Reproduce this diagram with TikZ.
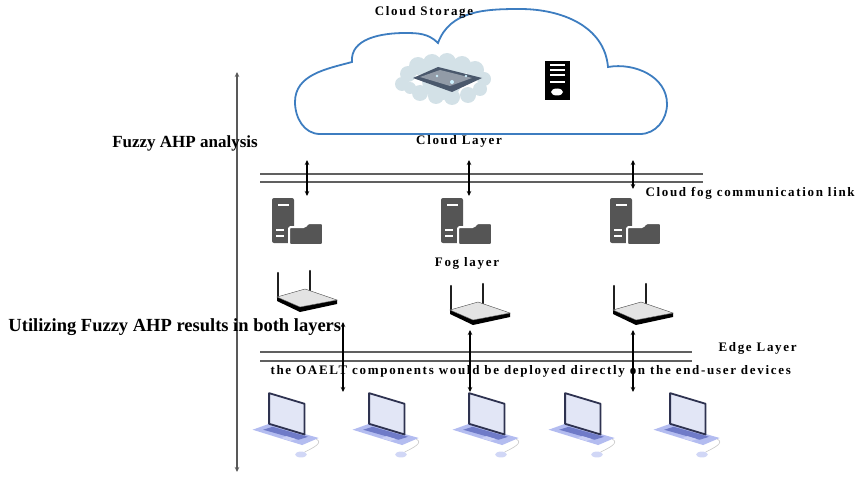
\documentclass[tikz,border=0pt]{standalone}
\usepackage{fontspec}
\setmainfont{Liberation Serif}
\newfontfamily\trackfont[LetterSpace=13]{Liberation Serif}
\usepackage{xcolor}
\usetikzlibrary{arrows.meta}

\definecolor{cloudblue}{HTML}{3D7DC0}
\definecolor{fogdark}{HTML}{555555}
\definecolor{lapnavy}{HTML}{2E3250}
\definecolor{lapscreen}{HTML}{E2E6F6}
\definecolor{lapbase}{HTML}{B3BCF0}
\definecolor{lapkeys}{HTML}{6F7BC8}
\definecolor{cloudmist}{HTML}{D3E1E7}
\definecolor{plateslate}{HTML}{4A586C}

\tikzset{
  linkline/.style={draw=gray!75!black, line width=1.1pt},
  updown/.style={{Stealth[length=5pt,width=4.5pt]}-{Stealth[length=5pt,width=4.5pt]}, line width=1.1pt},
  layerlabel/.style={font=\trackfont\bfseries\fontsize{13}{15}\selectfont, inner sep=0pt},
  sidelabel/.style={font=\bfseries\fontsize{17}{20}\selectfont, inner sep=0pt},
  fogicon/.pic={
    \fill[fogdark, rounded corners=2pt] (0,0) rectangle (22,45);
    \draw[white, line width=1.6pt] (6,7) -- (17,7);
    \draw[white, line width=1.6pt] (4,32) -- (12,32) (4,38) -- (12,38);
    \filldraw[fill=fogdark, draw=white, line width=2pt, rounded corners=1.5pt]
      (17,47) -- (17,29) -- (33,29) -- (36,25) -- (51,25) -- (51,47) -- cycle;
  },
  routericon/.pic={
    \draw[line width=2.4pt, gray!25!black, line cap=round] (1,27) -- (1,2);
    \draw[line width=2.4pt, gray!25!black, line cap=round] (33,20) -- (33,0);
    \fill[black] (0,26) -- (0,30) -- (23,41) -- (60,33) -- (60,29) -- (23,36) -- cycle;
    \filldraw[fill=gray!22, draw=gray!55!black, line width=0.4pt] (0,26) -- (28,18) -- (60,29) -- (23,36) -- cycle;
  },
  lapicon/.pic={
    \begin{scope}[scale=1.18]
    \fill[lapbase] (-30,4) -- (-16,-1) -- (26,11) -- (12,17) -- cycle;
    \fill[lapkeys] (-21,4) -- (-13,1.5) -- (17,10) -- (9,12.5) -- cycle;
    \fill[lapbase!70!white] (-6,11) -- (-1,9.5) -- (7,12) -- (2,13.5) -- cycle;
    \filldraw[fill=lapscreen, draw=lapnavy, line width=1.8pt, line join=round]
      (-16,-27) -- (14,-18) -- (14,8) -- (-16,-1) -- cycle;
    \draw[gray!45, line width=0.6pt] (24,12) .. controls (30,15) and (22,19) .. (14,23);
    \fill[lapbase!60] (11,25) ellipse (5 and 2.5);
    \end{scope}
  },
}

\begin{document}
\begin{tikzpicture}[x=1pt, y=-1pt, line width=1pt]
  \useasboundingbox (0,0) rectangle (858,476);

  % cloud outline
  \draw[cloudblue, line width=1.8pt] (320,134) to[out=180,in=270] (295,102) to[out=90,in=195] (352,62)
    to[out=95,in=180] (405,33) to[out=0,in=135] (438,43)
    to[out=70,in=180] (520,9) to[out=0,in=95] (608,67)
    to[out=10,in=90] (667,104) to[out=270,in=0] (640,134) -- cycle;
  \node[layerlabel] (cloudstore) at (424,12) {Cloud Storage};
  \node[layerlabel] (cloudlayer) at (459,141) {Cloud Layer};

  % storage picture
  \foreach \cx/\cy/\r in {402/84/7, 408/74/8, 418/66/9, 432/63/9, 447/62/9, 462/65/9, 475/70/9, 484/79/7,
      480/89/7, 468/95/8, 452/97/8, 436/96/8, 420/93/8, 410/88/6, 442/80/20}
    \fill[cloudmist] (\cx,\cy) circle (\r);
  \fill[plateslate] (413,78) -- (438,67) -- (482,78) -- (452,92) -- cycle;
  \fill[plateslate!60!white] (420,77) -- (440,70) -- (472,78) -- (450,86) -- cycle;
  \fill[white!80!cyan] (452,82) circle (2) (437,76) circle (1.3) (466,76) circle (1.3);

  % server tower
  \fill[black] (545,61) rectangle (570,100);
  \foreach \yy in {65,70,75,82} \draw[white, line width=1.4pt] (550,\yy) -- (565,\yy);
  \fill[white] (557,92) ellipse (6 and 3.5);

  % fuzzy AHP axis
  \coordinate (axtop) at (237,72);
  \coordinate (axbot) at (237,472);
  \draw[updown, draw=gray!70!black, line width=1.4pt] (axtop) -- (axbot);
  \node[sidelabel] (fuzzytxt) at (185,143) {Fuzzy AHP analysis};
  \node[sidelabel, font=\bfseries\fontsize{18.5}{20}\selectfont, anchor=west] (usetxt) at (8,327) {Utilizing Fuzzy AHP results in both layers};

  % cloud fog link
  \draw[linkline] (260,174) -- (703,174);
  \draw[linkline] (260,182) -- (703,182);
  \node[layerlabel, anchor=west] (linktxt) at (645,193) {Cloud fog communication link};

  \pic at (272,198) {fogicon};
  \pic at (441,198) {fogicon};
  \pic at (610,198) {fogicon};
  \coordinate (ca1) at (307,160); \coordinate (fa1) at (307,196);
  \coordinate (ca2) at (469,160); \coordinate (fa2) at (469,196);
  \coordinate (ca3) at (633,160); \coordinate (fa3) at (633,189);
  \draw[updown] (ca1) -- (fa1);
  \draw[updown] (ca2) -- (fa2);
  \draw[updown] (ca3) -- (fa3);

  \node[layerlabel] (foglayer) at (467,263) {Fog layer};
  \pic at (277,271) {routericon};
  \pic at (450,284) {routericon};
  \pic at (613,284) {routericon};

  % edge layer
  \draw[linkline] (260,352) -- (692,352);
  \draw[linkline] (260,361) -- (692,361);
  \node[layerlabel, anchor=west] (edgetxt) at (718,348) {Edge Layer};
  \node[layerlabel, anchor=west] (oaelttxt) at (270,371) {the OAELT components would be deployed directly on the end-user devices};

  \coordinate (ra1) at (343,322); \coordinate (ea1) at (343,392);
  \coordinate (ra2) at (470,330); \coordinate (ea2) at (470,392);
  \coordinate (ra3) at (633,330); \coordinate (ea3) at (633,392);
  \draw[updown] (ra1) -- (ea1);
  \draw[updown] (ra2) -- (ea2);
  \draw[updown] (ra3) -- (ea3);

  \foreach \lx in {288,388,488,584,689}
    \pic at (\lx,425) {lapicon};
\end{tikzpicture}
\end{document}
